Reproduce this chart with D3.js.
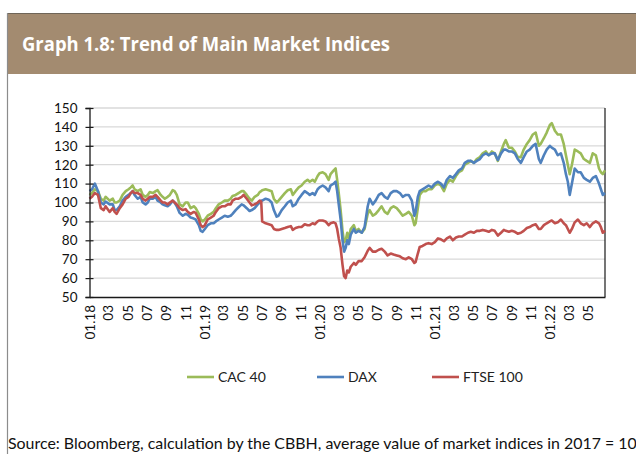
<!DOCTYPE html>
<html>
<head>
<meta charset="utf-8">
<script src="https://cdn.jsdelivr.net/npm/d3@7"></script>
<style>
  html, body { margin: 0; padding: 0; background: #fff; }
  svg { display: block; }
</style>
</head>
<body>
<svg id="chart" width="636" height="454"></svg>
<script>
// data (2017 average = 100)
const dates = [
  "2018-01-01","2018-01-09","2018-01-18","2018-01-28","2018-02-06","2018-02-15","2018-02-21","2018-03-06",
  "2018-03-16","2018-03-22","2018-03-28","2018-04-07","2018-04-16","2018-04-26","2018-05-05","2018-05-12",
  "2018-05-18","2018-05-24","2018-06-03","2018-06-12","2018-06-19","2018-06-28","2018-07-05","2018-07-11",
  "2018-07-21","2018-07-30","2018-08-05","2018-08-15","2018-08-21","2018-08-28","2018-09-06","2018-09-13",
  "2018-09-22","2018-09-28","2018-10-05","2018-10-14","2018-10-24","2018-11-02","2018-11-09","2018-11-18",
  "2018-11-28","2018-12-04","2018-12-14","2018-12-20","2018-12-26",
  "2019-01-02","2019-01-11","2019-01-21","2019-01-30","2019-02-06","2019-02-15","2019-02-25","2019-03-06",
  "2019-03-16","2019-03-25","2019-03-31","2019-04-10","2019-04-19","2019-04-29","2019-05-05","2019-05-15",
  "2019-05-24","2019-05-31","2019-06-09","2019-06-19","2019-06-25","2019-06-30","2019-07-03","2019-07-14",
  "2019-07-24","2019-08-02","2019-08-09","2019-08-18","2019-08-24","2019-09-03","2019-09-13","2019-09-22",
  "2019-10-02","2019-10-08","2019-10-17","2019-10-27","2019-11-05","2019-11-15","2019-11-24","2019-12-01",
  "2019-12-10","2019-12-17","2019-12-26",
  "2020-01-01","2020-01-11","2020-01-20","2020-01-30","2020-02-05","2020-02-15","2020-02-21","2020-02-26",
  "2020-03-02","2020-03-08","2020-03-14","2020-03-19","2020-03-24","2020-03-29","2020-04-03","2020-04-09",
  "2020-04-19","2020-04-25","2020-05-04","2020-05-14","2020-05-23","2020-06-02","2020-06-08","2020-06-18",
  "2020-06-27","2020-07-07","2020-07-16","2020-07-26","2020-08-04","2020-08-14","2020-08-23","2020-09-02",
  "2020-09-12","2020-09-21","2020-10-01","2020-10-10","2020-10-20","2020-10-28","2020-11-01","2020-11-08",
  "2020-11-14","2020-11-23","2020-12-03","2020-12-12","2020-12-22",
  "2021-01-01","2021-01-11","2021-01-20","2021-01-30","2021-02-08","2021-02-18","2021-02-27","2021-03-09",
  "2021-03-18","2021-03-28","2021-04-06","2021-04-16","2021-04-25","2021-05-05","2021-05-14","2021-05-24",
  "2021-06-02","2021-06-12","2021-06-21","2021-07-01","2021-07-10","2021-07-20","2021-07-30","2021-08-08",
  "2021-08-14","2021-08-24","2021-09-02","2021-09-12","2021-09-21","2021-10-01","2021-10-10","2021-10-20",
  "2021-10-29","2021-11-08","2021-11-17","2021-11-27","2021-12-03","2021-12-13","2021-12-22",
  "2022-01-01","2022-01-07","2022-01-17","2022-01-26","2022-02-05","2022-02-14","2022-02-21","2022-02-27",
  "2022-03-05","2022-03-12","2022-03-21","2022-03-31","2022-04-09","2022-04-19","2022-04-28","2022-05-08",
  "2022-05-17","2022-05-27","2022-06-06","2022-06-12","2022-06-18","2022-06-25"
];

const cac40 = [
  104,105,107,106,102,101,103,101, 102,100,100,101,104,106,107,108,
  109,107,106,107,104,103,104,105.5, 105,106,106.5,104,103,102,103,104,
  106.5,106,104,99,98,100,100,97, 98,97,94,91,90,
  91,93,94,95,97,99,100,101, 101,102,103.5,104,105,106,106,104,
  102,101,103,104,105.5,106,106.5,107, 106.5,106,102,100,101,103,105,106.5,
  107,104,106,108,109,111,112,111, 112,111,114,
  115.5,116,115,112,115,117,118,112, 105,96,85,79,80,84,81,86,
  88,85,86,84,86,94,96,93, 94,96,98,95,94,97,98,97,
  95,93,94,95,93,88,89,97, 104,106,106,107,107,
  109,110,109,106,110,112,111,114, 116,117,120,121,122,121,123,124,
  126,127,125,127,126,122,127,131, 133,129,129,127,124,124,128,131,
  133,136,137,130,131,134,137,
  141,142,138,136,136,131,125,120, 115,120,128,127,126,123,122,121,
  126,125,118,116,115,117
];

const dax = [
  106,107,110,106,100,99,100.5,99, 99,96,96,98,101,103,104,105,
  106,104,102,103,100,99,100,102, 102,103,101,100,99,98.5,98,99,
  101,100,98,94.5,93,94,93.5,92, 91.5,91,88,85,84.5,
  86,88,89,89,90,91,92,93, 92.5,93,94,96,97.5,99,98.5,97,
  95.5,96,97,99,100,101,101,102, 101.5,100,96,92.5,93,96,98,100,
  101,98,99,102,104,106,105,104, 105,104,107,
  108,109,108,106,109,110,111,106, 99,91,80,74,76,80,78,83,
  86,84,85,84,87,98,102,99, 101,104,105,103,102,105,106,106,
  105,103,104,104,101,93,95,103, 106,107,108,109,108,
  110,111,110,108,112,114,113,115, 117,118,121,122,122,121,122,123,
  125,126,125,126,126,122.5,126,128, 128,127,127,126,123,121,124,127,
  128,130,131,123,121,125,128,
  130,129,128,125,126,121,115,111, 104,110,118,116,116,113,112,111,
  113,114,110,107,104,105
];

const ftse100 = [
  102,103,105,104,97,96,98,95, 97,95,94,97,99,102,103,105,
  106,105,105,104,102,101,102,103, 103,104,103,101,100,100,99,100,
  101,100,99,97,96,96.5,95,94, 95,94.5,91,88,87,
  88,91,92,93,95,97,98,98, 99,99,101,102,102,103,104,102,
  100,98.5,99,100,101,100.5,90,89, 88.5,88,86,85.5,85.5,86,86.5,87,
  87.5,85.5,86.5,87,87,88.5,88,88, 89,88.5,90,
  90.5,90.5,90,88,89,89.5,89,86, 81,76,67,61,60,64,63,66,
  68,67,69,69,71,74.5,76,74, 74,75,75.5,74,72,73,72.5,72,
  71.5,70.5,70,71,70,68,68.5,73, 76.5,77,78,78.5,78,
  79,81,80.5,79.5,81,82,80,81.5, 82,82,83,84,84.5,84,85,85,
  85.5,85,84.5,85.5,85,82.5,84,85.5, 85,84.5,85,84.5,83.5,84,85,86.5,
  87,88,88.5,86,86,88,89,
  90,90.5,89,89.5,91,89,88,86, 84,86,89.5,91,89,88,89,87,
  89,90,89,87,84,85
];

const seriesNames = ["CAC 40", "DAX", "FTSE 100"];
const seriesColors = ["#9bbb59", "#4f81bd", "#c0504d"];
const yTicks = [50, 60, 70, 80, 90, 100, 110, 120, 130, 140, 150];

const title = "Graph 1.8: Trend of Main Market Indices";
const source = "Source: Bloomberg, calculation by the CBBH,  average value of market indices in 2017 = 100";

const parse = d3.timeParse("%Y-%m-%d");
const series = [cac40, dax, ftse100].map((vals, k) => ({
  name: seriesNames[k],
  color: seriesColors[k],
  values: vals.map((v, i) => ({ date: parse(dates[i]), value: v }))
}));

const svg = d3.select("#chart");
const W = 636, H = 454;
const plot = { left: 89.5, right: 605, top: 108, bottom: 297 };

// frame and header band
svg.append("rect").attr("x", 7).attr("y", 13).attr("width", W - 7).attr("height", 61)
  .attr("fill", "#a38b70");
svg.append("line").attr("x1", 7).attr("x2", W).attr("y1", 13.5).attr("y2", 13.5)
  .attr("stroke", "#6f6558").attr("stroke-width", 1);
svg.append("line").attr("x1", 7.5).attr("x2", 7.5).attr("y1", 13).attr("y2", H)
  .attr("stroke", "#8c8c8c").attr("stroke-width", 1.2);

svg.append("text")
  .attr("x", 22).attr("y", 51)
  .attr("fill", "#fff")
  .attr("font-family", "'Open Sans', sans-serif")
  .attr("font-weight", 700)
  .attr("font-size", 19)
  .attr("textLength", 368)
  .attr("lengthAdjust", "spacingAndGlyphs")
  .text(title);

const x = d3.scaleTime()
  .domain([parse(dates[0]), parse(dates[dates.length - 1])])
  .range([plot.left, plot.right]);
const y = d3.scaleLinear().domain([50, 150]).range([plot.bottom, plot.top]);

// gridlines
svg.append("g").selectAll("line")
  .data(yTicks.filter(t => t > 50))
  .join("line")
  .attr("x1", plot.left).attr("x2", plot.right)
  .attr("y1", d => y(d)).attr("y2", d => y(d))
  .attr("stroke", "#d9d9d9").attr("stroke-width", 1.3);

// right border
svg.append("line").attr("x1", plot.right).attr("x2", plot.right)
  .attr("y1", plot.top).attr("y2", plot.bottom)
  .attr("stroke", "#1a1a1a").attr("stroke-width", 1.2);

// lines
const line = d3.line().x(d => x(d.date)).y(d => y(d.value));
svg.append("g").selectAll("path")
  .data(series)
  .join("path")
  .attr("d", d => line(d.values))
  .attr("fill", "none")
  .attr("stroke", d => d.color)
  .attr("stroke-width", 2.6)
  .attr("stroke-linejoin", "round");

// y axis
const yAxis = d3.axisLeft(y).tickValues(yTicks).tickSize(4).tickPadding(8);
const gy = svg.append("g").attr("transform", `translate(${plot.left},0)`).call(yAxis);
gy.select(".domain").attr("stroke", "#1a1a1a").attr("stroke-width", 1.3);
gy.selectAll(".tick line").attr("x2", 4).attr("x1", -4).attr("stroke", "#1a1a1a").attr("stroke-width", 1.2);
gy.selectAll(".tick text")
  .attr("font-family", "Lato, sans-serif").attr("font-size", 13.5).attr("fill", "#111");

// x axis
const monthTicks = d3.timeMonth.every(2).range(parse("2018-01-01"), parse("2022-06-02"));
const fmt = d => d.getMonth() === 0 ? d3.timeFormat("%m.%y")(d) : d3.timeFormat("%m")(d);
const xAxis = d3.axisBottom(x).tickValues(monthTicks).tickFormat(fmt).tickSize(0).tickPadding(0);
const gx = svg.append("g").attr("transform", `translate(0,${plot.bottom})`).call(xAxis);
gx.select(".domain").attr("stroke", "#1a1a1a").attr("stroke-width", 1.3);
gx.selectAll(".tick text")
  .attr("font-family", "Lato, sans-serif").attr("font-size", 13.5).attr("fill", "#111")
  .attr("transform", "rotate(-90)")
  .attr("text-anchor", "end")
  .attr("x", -8).attr("y", 0).attr("dy", "0.35em");

// legend
const legendX = [187, 317, 432];
const legend = svg.append("g").selectAll("g")
  .data(series)
  .join("g")
  .attr("transform", (d, i) => `translate(${legendX[i]},377)`);
legend.append("line").attr("x1", 0).attr("x2", 27)
  .attr("stroke", d => d.color).attr("stroke-width", 2.6);
legend.append("text").attr("x", 31).attr("dy", "0.35em")
  .attr("font-family", "Lato, sans-serif").attr("font-size", 14).attr("fill", "#222")
  .text(d => d.name);

// source
svg.append("text")
  .attr("x", 8).attr("y", 449)
  .attr("font-family", "Lato, sans-serif").attr("font-size", 15).attr("fill", "#111")
  .attr("textLength", 638).attr("lengthAdjust", "spacingAndGlyphs")
  .text(source);
</script>
</body>
</html>
